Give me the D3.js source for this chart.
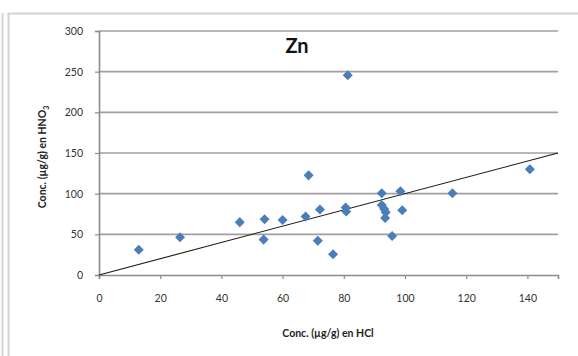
<!DOCTYPE html>
<html>
<head>
<meta charset="utf-8">
<script src="https://cdn.jsdelivr.net/npm/d3@7"></script>
<style>
  html, body { margin: 0; padding: 0; background: #fff; }
  svg { display: block; }
  text { font-family: Lato, "Open Sans", sans-serif; }
</style>
</head>
<body>
<div id="chart"></div>
<script>
// Zn concentrations: HCl digestion (x) vs HNO3 digestion (y), µg/g
const hclValues  = [13, 26.5, 46, 53.8, 54.1, 60, 67.5, 68.5, 71.5, 72.2, 76.5, 80.6, 80.8, 81.3,
                    92.4, 92.4, 93.2, 93.7, 93.5, 95.8, 98.5, 99.1, 115.5, 140.8];
const hno3Values = [31, 46.5, 65, 43.5, 68.5, 67.5, 72, 122.5, 42, 80.5, 25.5, 83, 78, 245.5,
                    100.5, 86, 81, 77, 70, 48, 103, 79.5, 100.5, 130];
const xTicks = [0, 20, 40, 60, 80, 100, 120, 140];
const yTicks = [0, 50, 100, 150, 200, 250, 300];
const refLine = [0, 150];   // 1:1 line

const W = 578, H = 356;
const svg = d3.select("#chart").append("svg").attr("width", W).attr("height", H);

// chart frame
svg.append("line").attr("x1", 2.5).attr("x2", 2.5).attr("y1", 13).attr("y2", H)
  .attr("stroke", "#d4d4d4").attr("stroke-width", 2);
svg.append("path").attr("d", `M8.5,${H} V13.5 H${W}`)
  .attr("fill", "none").attr("stroke", "#d4d4d4").attr("stroke-width", 2);

const x = d3.scaleLinear().domain([0, 150]).range([99, 558]);
const y = d3.scaleLinear().domain([0, 300]).range([275, 31]);

// horizontal gridlines
svg.append("g").selectAll("line").data(yTicks.filter(d => d > 0)).join("line")
  .attr("x1", x(0)).attr("x2", x(150))
  .attr("y1", d => y(d)).attr("y2", d => y(d))
  .attr("stroke", "#a0a0a0").attr("stroke-width", 1.7);

// x axis
const xAxis = svg.append("g").attr("transform", `translate(0,${y(0)})`)
  .call(d3.axisBottom(x).tickValues(xTicks).tickSize(4).tickPadding(16).tickFormat(d3.format("d")));
xAxis.select(".domain").attr("stroke", "#8c8c8c").attr("stroke-width", 1.6);
xAxis.selectAll(".tick line").attr("stroke", "#8c8c8c").attr("stroke-width", 1.2);
xAxis.selectAll("text").attr("fill", "#333").attr("font-size", 10.5)
  .style("font-family", "Lato, sans-serif");

// y axis
const yAxis = svg.append("g").attr("transform", `translate(${x(0)},0)`)
  .call(d3.axisLeft(y).tickValues(yTicks).tickSize(4).tickPadding(12).tickFormat(d3.format("d")));
yAxis.select(".domain").attr("stroke", "#8c8c8c").attr("stroke-width", 1.6);
yAxis.selectAll(".tick line").attr("stroke", "#8c8c8c").attr("stroke-width", 1.2);
yAxis.selectAll("text").attr("fill", "#333").attr("font-size", 10.5)
  .style("font-family", "Lato, sans-serif");

// 1:1 reference line
svg.append("line")
  .attr("x1", x(refLine[0])).attr("y1", y(refLine[0]))
  .attr("x2", x(refLine[1])).attr("y2", y(refLine[1]))
  .attr("stroke", "#1a1a1a").attr("stroke-width", 1.1);

// data points (diamonds)
const diamond = d3.symbol().type(d3.symbolDiamond2).size(64);
svg.append("g").selectAll("path").data(hclValues.map((v, i) => [v, hno3Values[i]])).join("path")
  .attr("d", diamond)
  .attr("transform", d => `translate(${x(d[0])},${y(d[1])})`)
  .attr("fill", "#4a7ebb");

// title
svg.append("text").attr("x", 297).attr("y", 53).attr("text-anchor", "middle")
  .attr("font-size", 20).attr("font-weight", "bold").attr("fill", "#111").text("Zn");

// axis titles
svg.append("text").attr("x", 328).attr("y", 337).attr("text-anchor", "middle")
  .attr("font-size", 10.5).attr("font-weight", "bold").attr("fill", "#222")
  .text("Conc. (µg/g) en HCl");

const yt = svg.append("text").attr("transform", "translate(46,157) rotate(-90)")
  .attr("text-anchor", "middle").attr("font-size", 10.5).attr("font-weight", "bold").attr("fill", "#222");
yt.append("tspan").text("Conc.  (µg/g) en HNO");
yt.append("tspan").attr("font-size", 7).attr("dy", 3).text("3");
</script>
</body>
</html>
